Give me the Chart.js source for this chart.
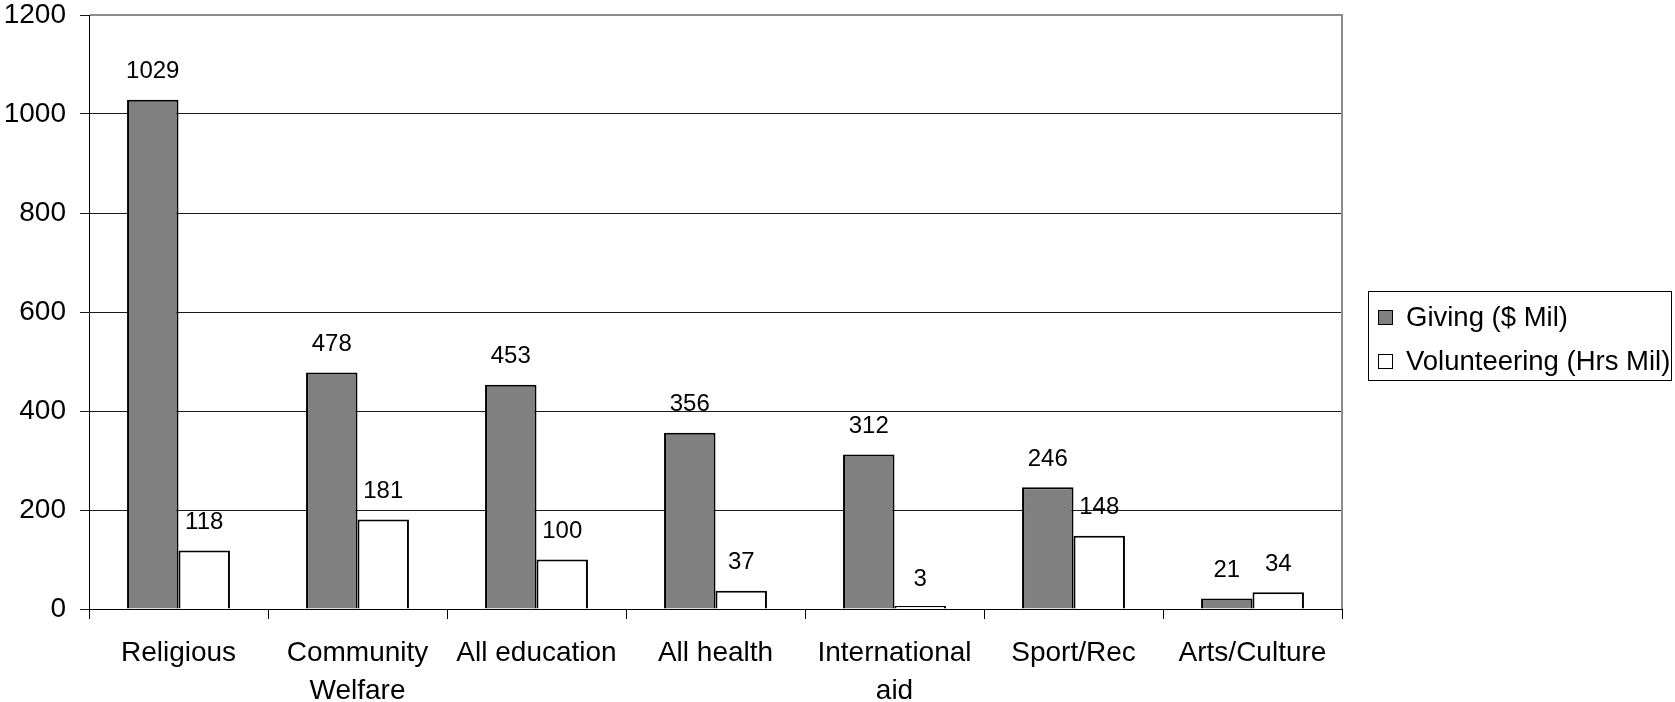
<!DOCTYPE html>
<html><head><meta charset="utf-8">
<script src="https://cdn.jsdelivr.net/npm/chart.js@4/dist/chart.umd.min.js"></script>
<style>html,body{margin:0;padding:0;background:#fff;}#wrap{width:1675px;height:702px;position:relative;}</style>
</head><body><div id="wrap"><canvas id="c" width="1675" height="702"></canvas></div>
<script>
const categories = ['Religious', ['Community','Welfare'], 'All education', 'All health', ['International','aid'], 'Sport/Rec', 'Arts/Culture'];
const giving = [1029, 478, 453, 356, 312, 246, 21];
const volunteering = [118, 181, 100, 37, 3, 148, 34];
const seriesNames = ['Giving ($ Mil)', 'Volunteering (Hrs Mil)'];
const yTicks = [0, 200, 400, 600, 800, 1000, 1200];

const FONT = "'Liberation Sans', Arial, sans-serif";

const extras = {
  id: 'extras',
  afterDatasetsDraw(chart) {
    const ctx = chart.ctx;
    const a = chart.chartArea;
    ctx.save();
    // top and right border of plot (gray)
    ctx.strokeStyle = '#8c8c8c';
    ctx.lineWidth = 2;
    ctx.beginPath();
    ctx.moveTo(a.left + 1, Math.round(a.top));
    ctx.lineTo(Math.round(a.right), Math.round(a.top));
    ctx.lineTo(Math.round(a.right), a.bottom);
    ctx.stroke();
    // data labels
    ctx.fillStyle = '#000';
    ctx.font = '24px ' + FONT;
    ctx.textAlign = 'center';
    ctx.textBaseline = 'middle';
    chart.data.datasets.forEach((ds, i) => {
      const meta = chart.getDatasetMeta(i);
      meta.data.forEach((bar, j) => {
        const yTop = chart.scales.y.getPixelForValue(ds.data[j]);
        ctx.fillText(String(ds.data[j]), bar.x, yTop - 28);
      });
    });
    // legend
    const lx = 1368, ly = 291, lw = 303, lh = 89;
    ctx.strokeStyle = '#000';
    ctx.lineWidth = 1;
    ctx.strokeRect(lx + 0.5, ly + 0.5, lw, lh);
    ctx.textAlign = 'left';
    ctx.font = '27.5px ' + FONT;
    const rows = [317, 361];
    chart.data.datasets.forEach((ds, i) => {
      const y = rows[i];
      ctx.fillStyle = ds.backgroundColor;
      ctx.fillRect(1378, y - 7, 15, 15);
      ctx.strokeStyle = '#000';
      ctx.strokeRect(1378.5, y - 6.5, 14, 14);
      ctx.fillStyle = '#000';
      ctx.fillText(seriesNames[i], 1406, y + 1);
    });
    ctx.restore();
  }
};

new Chart(document.getElementById('c'), {
  type: 'bar',
  data: {
    labels: categories,
    datasets: [
      { label: seriesNames[0], data: giving, backgroundColor: '#808080', borderColor: '#000', borderWidth: 2, categoryPercentage: 0.575, barPercentage: 1, minBarLength: 3 },
      { label: seriesNames[1], data: volunteering, backgroundColor: '#ffffff', borderColor: '#000', borderWidth: 2, categoryPercentage: 0.575, barPercentage: 1, minBarLength: 3 }
    ]
  },
  options: {
    responsive: false,
    animation: false,
    layout: { padding: { top: 0, right: 333, left: 0, bottom: 0 } },
    plugins: { legend: { display: false }, tooltip: { enabled: false } },
    scales: {
      x: {
        offset: true,
        grid: { offset: true, drawOnChartArea: false, color: '#000', tickLength: 10, lineWidth: 1 },
        border: { color: '#000', width: 1 },
        ticks: { color: '#000', font: { family: FONT, size: 28, lineHeight: 1.33 }, padding: 16, maxRotation: 0, autoSkip: false },
        afterFit(s) { s.height = 93; s.paddingLeft = 0; s.paddingRight = 0; }
      },
      y: {
        min: 0, max: 1200,
        afterBuildTicks(s) { s.ticks = yTicks.map(v => ({ value: v })); },
        grid: { color: '#1a1a1a', tickLength: 9, lineWidth: 1 },
        border: { color: '#000', width: 1 },
        ticks: { color: '#000', font: { family: FONT, size: 28 }, padding: 14, callback: v => String(v) },
        afterFit(s) { s.width = 89; s.paddingTop = 15; s.paddingBottom = 0; }
      }
    }
  },
  plugins: [extras]
});
</script></body></html>
